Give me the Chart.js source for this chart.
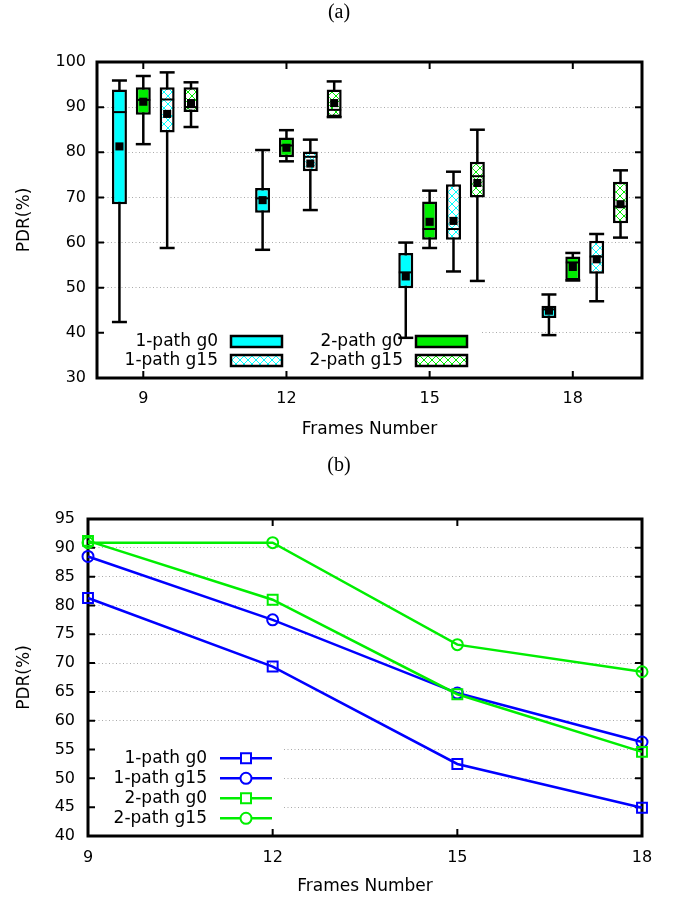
<!DOCTYPE html>
<html>
<head>
<meta charset="utf-8">
<script src="https://cdn.jsdelivr.net/npm/chart.js@4/dist/chart.umd.min.js"></script>
<style>
  body { margin: 0; background: #fff; overflow: hidden; }
  canvas { display: block; }
</style>
</head>
<body>
<canvas id="chartA" width="678" height="450"></canvas>
<canvas id="chartB" width="678" height="448"></canvas>
<script>
var frames = [9, 12, 15, 18];
var names = ['1-path g0', '2-path g0', '1-path g15', '2-path g15'];

// box plot statistics, one row per series (same order as names), one value per frame count
var low    = [[42.4, 58.4, 38.9, 39.5], [81.8, 78.0, 58.8, 51.6], [58.8, 67.2, 53.6, 47.0], [85.6, 87.8, 51.5, 61.1]];
var q1     = [[68.5, 66.6, 49.9, 43.3], [88.3, 78.9, 60.6, 51.6], [84.4, 75.8, 60.6, 53.1], [88.9, 87.8, 70.0, 64.3]];
var median = [[88.9, 69.8, 53.4, 45.2], [91.6, 81.5, 63.0, 55.6], [91.7, 79.0, 63.0, 56.9], [90.0, 89.4, 74.7, 68.0]];
var q3     = [[93.9, 72.1, 57.7, 46.0], [94.4, 83.3, 69.1, 56.9], [94.4, 80.2, 72.9, 60.4], [94.4, 93.9, 77.9, 73.5]];
var high   = [[95.9, 80.5, 60.0, 48.5], [96.9, 84.9, 71.5, 57.7], [97.7, 82.8, 75.7, 61.9], [95.5, 95.7, 85.0, 76.0]];
var mean   = [[81.3, 69.4, 52.5, 44.9], [91.2, 81.0, 64.6, 54.6], [88.5, 77.5, 64.8, 56.3], [90.9, 90.9, 73.2, 68.5]];

const cyan = '#00ffff'
const green = '#00ee00'
const blue = '#0000ff'

Chart.defaults.font.family = '"DejaVu Sans", sans-serif';
Chart.defaults.font.size = 16;
Chart.defaults.color = '#000';

function makeHatch(color) {
  var c = document.createElement('canvas');
  c.width = 8;
  c.height = 8;
  var g = c.getContext('2d');
  g.fillStyle = '#fff';
  g.fillRect(0, 0, 8, 8);
  g.strokeStyle = color;
  g.lineWidth = 1;
  g.beginPath();
  g.moveTo(0, 0); g.lineTo(8, 8);
  g.moveTo(8, 0); g.lineTo(0, 8);
  g.stroke();
  return g.createPattern(c, 'repeat');
}

// per series style: box fill, line colour, marker, shift from the frame position
var fills = [cyan, green, makeHatch(cyan), makeHatch(green)];
var lineColors = [blue, green, blue, green];
var markers = ['rect', 'rect', 'circle', 'circle'];
var shifts = [-0.5, 0, 0.5, 1];

function drawFrame(chart, tickLen) {
  var ctx = chart.ctx, a = chart.chartArea;
  var xs = chart.scales.x, ys = chart.scales.y;
  ctx.save();
  ctx.strokeStyle = '#000';
  ctx.lineWidth = 2;
  ctx.beginPath();
  xs.ticks.forEach(function(t, i) {
    var px = xs.getPixelForTick(i);
    ctx.moveTo(px, a.bottom); ctx.lineTo(px, a.bottom - tickLen);
    ctx.moveTo(px, a.top); ctx.lineTo(px, a.top + tickLen);
  });
  ys.ticks.forEach(function(t, i) {
    var py = ys.getPixelForTick(i);
    ctx.moveTo(a.left, py); ctx.lineTo(a.left + tickLen, py);
    ctx.moveTo(a.right, py); ctx.lineTo(a.right - tickLen, py);
  });
  ctx.stroke();
  ctx.lineWidth = 3;
  ctx.strokeRect(a.left, a.top, a.right - a.left, a.bottom - a.top);
  ctx.restore();
}

// empty axis on the right, only there to keep the plot off the right edge
function spacerAxis(width) {
  return {
    position: 'right', min: 0, max: 1,
    afterFit: function(s) { s.width = width; },
    ticks: { display: false },
    grid: { display: false, drawTicks: false },
    border: { display: false }
  };
}

var titleFont = { family: '"Liberation Serif", serif', size: 20, weight: 'normal' };
var axisFont = { size: 17 };

///////////////////////////////////////////////////////////////////////////////

var boxKey = {
  id: 'boxKey',
  beforeDatasetsDraw: function(chart) {
    var ctx = chart.ctx, a = chart.chartArea;
    ctx.save();
    ctx.fillStyle = '#fff';
    ctx.fillRect(a.left + 2, a.bottom - 53, 381, 47);
    ctx.font = '17px "DejaVu Sans"';
    ctx.textAlign = 'right';
    ctx.textBaseline = 'middle';
    names.forEach(function(name, i) {
      var col = i % 2, row = Math.floor(i / 2);
      var tx = a.left + (col ? 306 : 121);
      var y = a.bottom - (row ? 17.5 : 36.5);
      ctx.fillStyle = '#000';
      ctx.fillText(name, tx, y);
      ctx.fillStyle = fills[i];
      ctx.fillRect(tx + 13, y - 5.5, 51, 11);
      ctx.lineWidth = 2.5;
      ctx.strokeStyle = '#000';
      ctx.strokeRect(tx + 13, y - 5.5, 51, 11);
    });
    ctx.restore();
    drawFrame(chart, 7);
  }
};

function points(i, values) {
  return frames.map(function(f, j) { return {x: f + shifts[i], y: values[i][j]}; });
}

var boxSets = [];
names.forEach(function(name, i) {
  boxSets.push({
    type: 'bar', label: name + ' whisker', order: 4, grouped: false,
    data: frames.map(function(f, j) { return {x: f + shifts[i], y: [low[i][j], high[i][j]]}; }),
    backgroundColor: '#000', borderWidth: 0, maxBarThickness: 2.5
  });
  boxSets.push({
    type: 'scatter', label: name + ' caps', order: 3,
    data: points(i, low).concat(points(i, high)),
    pointStyle: 'line', pointRadius: 7.5, borderColor: '#000', borderWidth: 2.5
  });
  boxSets.push({
    type: 'bar', label: name, order: 2, grouped: false,
    data: frames.map(function(f, j) { return {x: f + shifts[i], y: [q1[i][j], q3[i][j]]}; }),
    backgroundColor: fills[i], borderColor: '#000', borderWidth: 2.5, borderSkipped: false,
    maxBarThickness: 15
  });
  boxSets.push({
    type: 'scatter', label: name + ' median', order: 1,
    data: points(i, median),
    pointStyle: 'line', pointRadius: 7, borderColor: '#000', borderWidth: 2
  });
  boxSets.push({
    type: 'scatter', label: name + ' mean', order: 0,
    data: points(i, mean),
    pointStyle: 'rect', pointRadius: 5.7, backgroundColor: '#000', borderWidth: 0
  });
});

var chartA = new Chart(document.getElementById('chartA'), {
  type: 'bar',
  data: { datasets: boxSets },
  options: {
    responsive: false,
    animation: false,
    events: [],
    layout: { padding: 0 },
    plugins: {
      legend: { display: false },
      tooltip: { enabled: false },
      title: {
        display: true, text: '(a)', color: '#000', font: titleFont,
        padding: { top: 1, bottom: 37 }
      }
    },
    scales: {
      x: {
        type: 'linear', min: 8.03, max: 19.45, offset: false,
        afterBuildTicks: function(s) { s.ticks = frames.map(function(v) { return {value: v}; }); },
        afterFit: function(s) { s.height = 72; },
        grid: { display: false, drawTicks: false },
        border: { display: false },
        ticks: { padding: 11.4 },
        title: { display: true, text: 'Frames Number', font: axisFont, padding: { top: 0, bottom: 9.8 } }
      },
      y: {
        min: 30, max: 100,
        afterFit: function(s) { s.width = 97; },
        ticks: { stepSize: 10, padding: 11 },
        grid: { color: '#aaaaaa', lineWidth: 1, drawTicks: false },
        border: { display: false, dash: [1, 2.5] },
        title: { display: true, text: 'PDR(%)', font: axisFont, padding: { top: 14, bottom: 0 } }
      },
      y2: spacerAxis(36)
    }
  },
  plugins: [boxKey]
});

///////////////////////////////////////////////////////////////////////////////

var lineOrder = [0, 2, 1, 3];

var lineKey = {
  id: 'lineKey',
  beforeDatasetsDraw: function(chart) {
    var ctx = chart.ctx, a = chart.chartArea;
    ctx.save();
    ctx.fillStyle = '#fff';
    ctx.fillRect(a.left + 2, a.bottom - 91, 192, 87);
    ctx.font = '17px "DejaVu Sans"';
    ctx.textAlign = 'right';
    ctx.textBaseline = 'middle';
    lineOrder.forEach(function(i, row) {
      var y = a.bottom - 77.7 + row * 20;
      var mx = a.left + 158;
      ctx.fillStyle = '#000';
      ctx.fillText(names[i], a.left + 119, y);
      ctx.strokeStyle = lineColors[i];
      ctx.lineWidth = 2.5;
      ctx.beginPath();
      ctx.moveTo(a.left + 132, y);
      ctx.lineTo(a.left + 184, y);
      ctx.stroke();
      ctx.fillStyle = '#fff';
      ctx.lineWidth = 2;
      ctx.beginPath();
      if (markers[i] === 'rect') ctx.rect(mx - 5, y - 5, 10, 10);
      else ctx.arc(mx, y, 5.5, 0, Math.PI * 2);
      ctx.fill();
      ctx.stroke();
    });
    ctx.restore();
    drawFrame(chart, 7);
  }
};

var chartB = new Chart(document.getElementById('chartB'), {
  type: 'line',
  data: {
    labels: frames.map(String),
    datasets: lineOrder.map(function(i, k) {
      return {
        label: names[i],
        data: mean[i],
        order: 3 - k,
        borderColor: lineColors[i],
        borderWidth: 2.5,
        pointStyle: markers[i],
        pointRadius: markers[i] === 'rect' ? 7 : 5.5,
        pointBorderWidth: 2,
        pointBorderColor: lineColors[i],
        pointBackgroundColor: 'rgba(0,0,0,0)',
        fill: false,
        tension: 0,
        clip: false
      };
    })
  },
  options: {
    responsive: false,
    animation: false,
    events: [],
    layout: { padding: 0 },
    plugins: {
      legend: { display: false },
      tooltip: { enabled: false },
      title: {
        display: true, text: '(b)', color: '#000', font: titleFont,
        padding: { top: 4, bottom: 41 }
      }
    },
    scales: {
      x: {
        offset: false,
        afterFit: function(s) { s.height = 62; },
        grid: { display: false, drawTicks: false },
        border: { display: false },
        ticks: { padding: 12.4 },
        title: { display: true, text: 'Frames Number', font: axisFont, padding: { top: 0, bottom: 1.1 } }
      },
      y: {
        min: 40, max: 95,
        afterFit: function(s) { s.width = 88; },
        ticks: { stepSize: 5, padding: 13 },
        grid: { color: '#aaaaaa', lineWidth: 1, drawTicks: false },
        border: { display: false, dash: [1, 2.5] },
        title: { display: true, text: 'PDR(%)', font: axisFont, padding: { top: 14.8, bottom: 0 } }
      },
      y2: spacerAxis(36)
    }
  },
  plugins: [lineKey]
});
</script>
</body>
</html>
